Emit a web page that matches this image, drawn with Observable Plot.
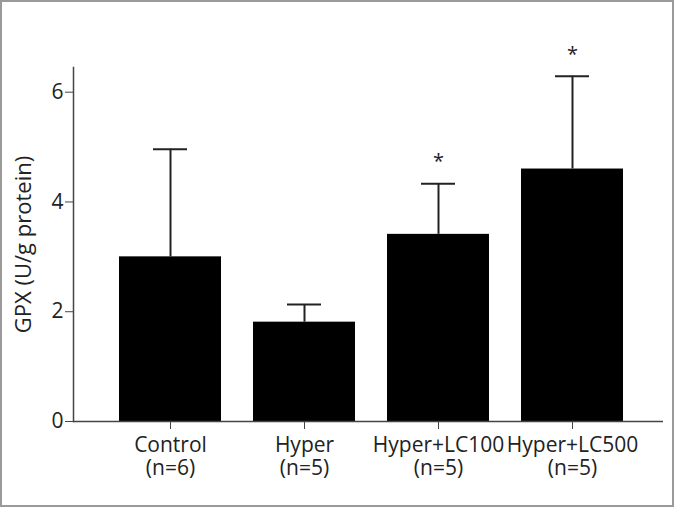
<!DOCTYPE html>
<html><head><meta charset="utf-8">
<script src="https://cdn.jsdelivr.net/npm/d3@7"></script>
<script src="https://cdn.jsdelivr.net/npm/@observablehq/plot@0.6"></script>
<style>
body{margin:0;background:#fff}
#chart svg{outline:2px solid #9a9a9a;outline-offset:-2px;display:block}
</style>
</head><body><div id="chart"></div>
<script>
const groups = ["Control", "Hyper", "Hyper+LC100", "Hyper+LC500"];
const nLabels = ["(n=6)", "(n=5)", "(n=5)", "(n=5)"];
const means = [3.0, 1.81, 3.41, 4.60];
const upper = [4.96, 2.13, 4.33, 6.29];
const significant = [false, false, true, true];
const yTicks = [0, 2, 4, 6];
const yLabel = "GPX (U/g protein)";

const data = groups.map((g, i) => ({group: g, mean: means[i], upper: upper[i], sig: significant[i]}));

const chart = Plot.plot({
  width: 674, height: 507,
  marginLeft: 73, marginRight: 11, marginTop: 67, marginBottom: 86,
  style: {fontFamily: "'Open Sans', sans-serif", color: "#222", background: "#fff"},
  x: {domain: groups, paddingInner: 0.24, paddingOuter: 0.32, align: 0.53, label: null},
  y: {domain: [0, 6.45], label: null},
  marks: [
    Plot.barY(data, {x: "group", y: "mean", fill: "#000"}),
    Plot.ruleX(data, {x: "group", y1: "mean", y2: "upper", stroke: "#222", strokeWidth: 2}),
    Plot.tickY(data, {x: "group", y: "upper", stroke: "#222", strokeWidth: 2, insetLeft: 34, insetRight: 34}),
    Plot.text(data.filter(d => d.sig), {x: "group", y: "upper", text: () => "*", dy: -22, fontSize: 20, fill: "#222"}),
    Plot.frame({anchor: "left", stroke: "#444", strokeWidth: 1.5}),
    Plot.ruleY([0], {stroke: "#444", strokeWidth: 1.5}),
    Plot.axisY({ticks: yTicks, tickFormat: d => String(d), tickSize: 8, tickPadding: 2, fontSize: 21, label: null, stroke: "#444"}),
    Plot.axisX({tickSize: 8, tickPadding: 6, fontSize: 21, lineHeight: 1.1, label: null, stroke: "#444",
      tickFormat: d => d + "\n" + nLabels[groups.indexOf(d)]}),
    Plot.text([yLabel], {frameAnchor: "left", textAnchor: "middle", rotate: -90, dx: -50, fontSize: 22, fill: "#222"})
  ]
});
document.getElementById("chart").append(chart);
</script>
</body></html>
